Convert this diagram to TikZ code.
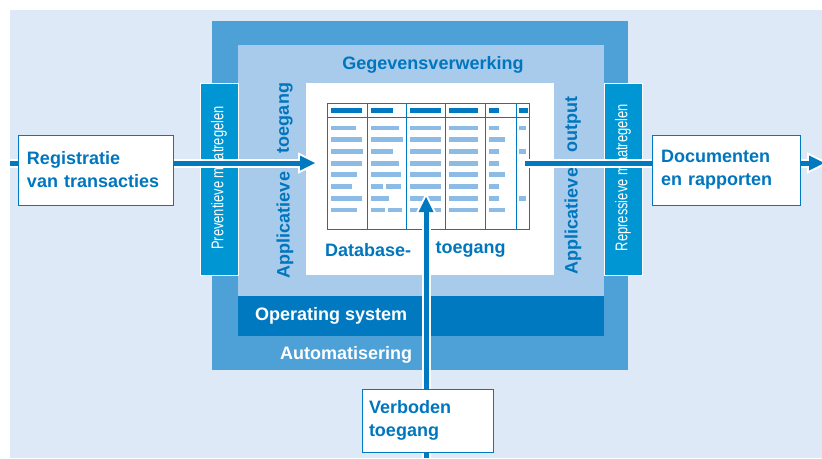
\documentclass[tikz,border=0pt]{standalone}
\usepackage{fontspec}
\setmainfont{Liberation Sans}
\newfontfamily\condfont[FakeStretch=0.76]{Liberation Sans}
\usepackage{xcolor}
\usepackage{tikz}
\usetikzlibrary{arrows.meta, positioning}
\definecolor{bgblue}{RGB}{221,233,247}
\definecolor{autoblue}{RGB}{77,161,215}
\definecolor{gegblue}{RGB}{168,202,235}
\definecolor{osblue}{RGB}{0,121,193}
\definecolor{barblue}{RGB}{0,150,212}
\definecolor{txtblue}{RGB}{0,118,190}
\definecolor{tabbar}{RGB}{140,188,229}
\tikzstyle{flow} = [line width=5pt, draw=osblue]
\tikzstyle{halo} = [line width=9pt, draw=white]
\tikzstyle{arrow} = [flow, -{Triangle[length=15pt,width=15pt,line width=0pt]}]
\tikzstyle{haloarrow} = [halo, -{Triangle[length=21.5pt,width=21.5pt,line width=0pt]}]

\begin{document}
\begin{tikzpicture}[x=1pt, y=-1pt]
    \tikzstyle{lbl} = [inner sep=0pt, font=\fontsize{18}{23}\selectfont\bfseries, text=txtblue]
    \tikzstyle{whitelbl} = [lbl, text=white]
    \tikzstyle{sidebar} = [rectangle, draw=white, line width=1pt, fill=barblue]
    \tikzstyle{sidelbl} = [inner sep=0pt, rotate=90, font=\condfont\fontsize{17}{20}\selectfont, text=white]
    \tikzstyle{textbox} = [rectangle, draw=osblue, line width=1pt, fill=white, inner sep=0pt, align=left,
        font=\fontsize{18}{23}\selectfont\bfseries, text=txtblue]

    \useasboundingbox (0,0) rectangle (822,458);
    \fill[white] (0,0) rectangle (822,458);
    \fill[bgblue] (10,10) rectangle (822,458);

    % layers: automatisering, gegevensverwerking, operating system
    \fill[autoblue] (212,21) rectangle (628,370);
    \fill[gegblue] (238,45) rectangle (604,296);
    \fill[osblue] (238,296) rectangle (604,336);
    \fill[white] (306,83) rectangle (554,275);

    \draw[sidebar] (200,83) rectangle (238,275);
    \draw[sidebar] (604,83) rectangle (642,275);

    % database table
    \begin{scope}[draw=osblue, line width=1pt]
        \draw (327,103) rectangle (529,229);
        \draw (327,117) -- (529,117);
        \foreach \x in {367,406,445,485,516}
            \draw (\x,103) -- (\x,229);
    \end{scope}
    \foreach \a/\b in {331/362, 371/393, 410/441, 449/478, 489/499, 519/528}
        \fill[osblue] (\a,108) rectangle (\b,112.5);
    \foreach \r in {1,...,8} {
        \fill[tabbar] (410,{128+11.7*(\r-1)-2.4}) rectangle (441,{128+11.7*(\r-1)+2.4});
        \fill[tabbar] (449,{128+11.7*(\r-1)-2.4}) rectangle (478,{128+11.7*(\r-1)+2.4});
    }
    \foreach \r/\a/\b in {1/331/356, 2/331/362, 3/331/363, 4/331/362, 5/331/357, 6/331/352, 7/331/362, 8/331/357,
        1/371/399, 2/371/403, 3/371/393, 4/371/399, 5/371/401, 6/371/383, 6/386/401, 7/371/389, 8/371/385, 8/388/402,
        1/489/499, 2/489/505, 3/489/499, 4/489/499, 5/489/505, 6/489/499, 7/489/499, 8/489/505,
        1/519/526, 3/519/526, 7/519/526}
        \fill[tabbar] (\a,{128+11.7*(\r-1)-2.4}) rectangle (\b,{128+11.7*(\r-1)+2.4});

    % labels
    \node[lbl] (gegevens) at (433,65) {Gegevensverwerking};
    \node[whitelbl, anchor=west] (os) at (255,316) {Operating system};
    \node[whitelbl, anchor=west] (auto) at (280,355) {Automatisering};
    \node[lbl, anchor=west] (dbleft) at (325,250) {Database-};
    \node[lbl, right=24pt of dbleft] (dbright) {toegang};
    \node[lbl, rotate=90] (appinleft) at (285,225) {Applicatieve};
    \node[lbl, rotate=90] (appinright) at (285,118) {toegang};
    \node[lbl, rotate=90] (appoutleft) at (573,221) {Applicatieve};
    \node[lbl, rotate=90] (appoutright) at (573,124.5) {output};
    \node[sidelbl] (prev) at (219,178) {Preventieve maatregelen};
    \node[sidelbl] (repr) at (623,177.5) {Repressieve maatregelen};

    % boxes
    \node[textbox, minimum width=155pt, minimum height=70pt, text width=137pt] (reg) at (95.5,170)
        {Registratie\\van transacties\\[4pt]};
    \node[textbox, minimum width=148pt, minimum height=70pt, text width=130pt] (docs) at (726,170)
        {Documenten\\en rapporten\\[4pt]};
    \node[textbox, minimum width=131pt, minimum height=63pt, text width=117pt] (verb) at (427.5,420.5)
        {Verboden\\toegang};

    % connectors
    \coordinate (inL) at (10,163);
    \coordinate (tipL) at (315,163);
    \coordinate (haloL) at (319.5,163);
    \coordinate (outR) at (525,163);
    \coordinate (tipR) at (824,163);
    \coordinate (haloR) at (828.5,163);
    \coordinate (inV) at (426,458);
    \coordinate (tipV) at (426,197);
    \coordinate (haloV) at (426,192.5);

    \draw[halo] (inL) -- (reg.west |- inL);
    \draw[haloarrow] (reg.east |- inL) -- (haloL);
    \draw[halo] (outR) -- (docs.west |- outR);
    \draw[haloarrow] (docs.east |- outR) -- (haloR);
    \draw[halo] (inV) -- (verb.south -| inV);
    \draw[haloarrow] (verb.north -| inV) -- (haloV);

    \draw[flow] (inL) -- (reg.west |- inL);
    \draw[arrow] (reg.east |- inL) -- (tipL);
    \draw[flow] (outR) -- (docs.west |- outR);
    \draw[arrow] (docs.east |- outR) -- (tipR);
    \draw[flow] (inV) -- (verb.south -| inV);
    \draw[arrow] (verb.north -| inV) -- (tipV);
\end{tikzpicture}
\end{document}
